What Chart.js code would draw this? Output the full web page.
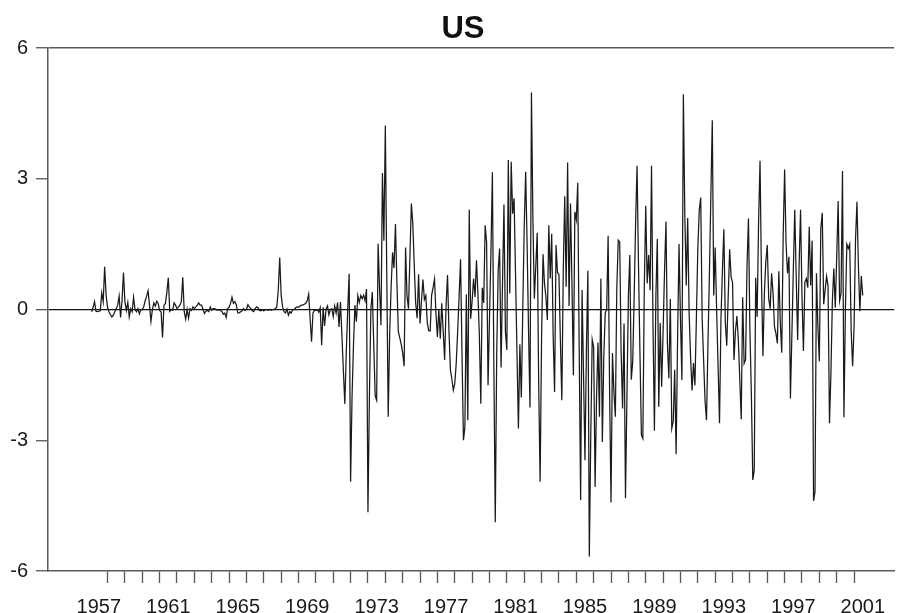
<!DOCTYPE html>
<html>
<head>
<meta charset="utf-8">
<script src="https://cdn.jsdelivr.net/npm/chart.js@4.4.1/dist/chart.umd.min.js"></script>
<style>
  html, body { margin: 0; padding: 0; background: #fff; }
  #wrap { position: relative; width: 897px; height: 613px; }
</style>
</head>
<body>
<div id="wrap"><canvas id="chart_us"></canvas></div>
<script>
// monthly series, first observation 1957:02
var firstYear = 1957, firstMonth = 2;

var us1950s = [
  -0.05, 0.05, 0.18, -0.04, -0.05, -0.04, -0.03, 0.38, 0.18, 0.98, 0.33,
  0.05, -0.05, -0.12, -0.17, -0.13, -0.05, 0.02, 0.1, 0.31, -0.18, 0.2, 0.85,
  0.18, -0.02, 0.16, -0.17, 0.02, -0.05, 0.28, 0.0, -0.05, 0.02, -0.1, 0.0
];
var us1960s = [
  0.0, 0.06, 0.2, 0.3, 0.43, 0.1, -0.27, 0.0, 0.15, 0.08, 0.19, 0.14,
  -0.02, -0.05, -0.64, 0.1, 0.14, 0.4, 0.73, -0.04, 0.0, -0.02, 0.15, 0.1,
  0.02, 0.06, 0.1, 0.18, 0.74, -0.05, -0.22, 0.0, -0.2, 0.02, -0.02, 0.06,
  0.02, 0.06, 0.1, 0.15, 0.1, 0.1, 0.0, -0.09, -0.04, -0.02, -0.05, 0.06,
  -0.02, 0.02, 0.02, 0.0, -0.02, 0.0, -0.03, -0.04, -0.11, -0.08, -0.18, 0.02,
  0.05, 0.14, 0.28, 0.14, 0.18, 0.11, -0.08, -0.08, -0.05, -0.03, 0.02, -0.02,
  0.0, 0.11, 0.06, 0.02, -0.03, -0.05, 0.02, 0.06, 0.04, -0.02, -0.03, 0.0,
  -0.03, 0.0, 0.0, -0.02, 0.0, -0.02, 0.0, 0.0, 0.02, 0.06, 0.44, 1.19,
  0.33, 0.06, -0.05, -0.08, 0.01, -0.13, -0.05, -0.08, 0.0, 0.0, 0.04, 0.06,
  0.05, 0.08, 0.1, 0.1, 0.12, 0.14, 0.2, 0.35, -0.2, -0.74, -0.08, -0.02
];
var us1970s = [
  -0.02, 0.0, -0.06, 0.04, -0.82, 0.05, -0.38, 0.0, 0.08, -0.12, 0.0, 0.02,
  -0.16, 0.08, -0.08, 0.16, -0.4, 0.17, -0.6, -1.4, -2.17, -1.0, 0.0, 0.82,
  -3.95, -2.0, -0.8, 0.1, -0.28, 0.32, 0.16, 0.32, 0.25, 0.33, 0.2, 0.47,
  -4.65, -2.0, 0.0, 0.4, -0.8, -1.98, -2.08, 1.51, 0.5, -0.36, 3.13, 1.58,
  4.22, 0.8, -2.46, -0.55, 0.5, 1.31, 0.95, 1.96, 0.63, -0.51, -0.65, -0.8,
  -1.0, -1.3, 1.42, 0.3, 0.02, 1.2, 2.43, 1.97, 1.0, 0.14, -0.2, 0.81,
  -0.32, 0.2, 0.69, 0.23, 0.32, -0.3, -0.49, -0.49, 0.33, 0.5, 0.7, -0.1,
  -0.63, 0.0, -0.67, 0.14, -0.5, -1.16, 0.1, 0.79, -0.5, -1.39, -1.6, -1.85,
  -1.7, -1.24, -0.5, 0.3, 1.15, -1.0, -3.0, -2.7, 0.35, -2.54, 2.29, -0.21,
  0.2, 0.71, 0.29, 1.13, 0.37, -0.6, -2.16, 0.5, 0.15, 1.93, 1.55, -1.74
];
var us1980s = [
  -0.2, 1.3, 3.15, -1.2, -4.88, -1.0, 0.9, 1.4, -1.33, 0.6, 2.41, -0.5,
  -0.93, 3.43, 0.37, 3.39, 2.2, 2.55, 0.8, -1.0, -2.73, -0.8, -2.02, 0.0,
  1.9, 3.16, 1.5, -0.5, -2.25, 4.98, 2.1, 0.25, 1.0, 1.76, -1.7, -3.95,
  -0.64, 1.27, 0.6, 0.3, -0.24, 1.93, 0.71, 1.74, -0.6, -1.89, 1.48, 0.85,
  0.8, -0.7, -2.08, 0.9, 2.6, 0.52, 3.37, 0.08, 2.43, 0.6, -1.51, 2.24,
  2.06, 2.91, -0.9, -4.37, 0.45, -1.5, -3.46, -0.9, 0.89, -5.67, -2.9, -0.69,
  -0.86, -4.07, -2.0, -0.76, -2.46, 0.71, -3.04, -1.1, -0.08, 0.0, 1.69, -1.8,
  -4.43, -1.0, -1.9, -2.46, 0.5, 1.59, 1.55, -1.0, -2.27, -0.32, -4.33, -2.0,
  0.3, 1.25, -1.61, -1.2, 0.3, 2.0, 3.3, 1.0, -1.0, -2.88, -2.96, 0.5,
  2.38, 0.6, 1.25, 0.44, 3.3, -0.3, -2.78, 0.3, 1.62, -2.23, -0.31, -1.77
];
var us1990s = [
  -0.5, 0.9, 2.02, -0.8, -1.58, 0.24, -2.73, -2.57, -1.38, -3.32, -0.7, 1.5,
  -0.2, -1.62, 4.94, 2.2, 0.55, 2.1, -0.09, -1.1, -1.86, -1.23, -1.74, -0.2,
  1.4, 2.29, 2.57, -0.2, -1.16, -2.1, -2.54, -0.8, 0.8, 2.6, 4.34, 0.32,
  1.42, 0.0, -1.3, -2.61, -0.2, 0.9, 1.84, -0.3, -0.83, 0.3, 1.38, 0.75,
  0.62, -1.16, -0.5, -0.15, -0.7, -1.6, -2.52, 0.28, -1.24, -1.15, 1.0, 2.09,
  -0.47, -1.93, -3.91, -3.69, 0.73, -0.17, 2.0, 3.41, 0.7, -1.07, 0.37, 1.1,
  1.48, 0.25, 0.02, 0.83, 0.37, -0.4, -0.55, -0.78, 0.88, -0.3, -0.99, 1.7,
  3.21, 1.5, 0.83, 1.21, -2.04, -0.6, 0.9, 2.29, 0.75, -0.7, 1.0, 2.29,
  0.3, -0.95, 0.63, 0.71, 0.5, 1.9, 0.55, 1.58, -4.39, -4.18, 0.83, -0.4,
  -1.19, 1.86, 2.22, 0.12, 0.45, 0.76, 0.55, -2.61, -1.47, 0.2, 0.94, 0.04
];
var us2000s = [
  1.2, 2.49, 0.2, 0.37, 3.18, -2.47, 0.0, 1.5, 1.4, 1.5, -0.5, -1.3,
  -0.4, 1.6, 2.47, 1.0, -0.04, 0.77, 0.32
];

var yTickValues = [-6, -3, 0, 3, 6];
var yearLabels = [1957, 1961, 1965, 1969, 1973, 1977, 1981, 1985, 1989, 1993, 1997, 2001];
var firstYearTick = 1958, lastYearTick = 2001;

var usValues = [].concat(us1950s, us1960s, us1970s, us1980s, us1990s, us2000s);
var usPoints = usValues.map(function (v, i) {
  return { x: firstYear + (firstMonth - 1 + i) / 12, y: v };
});

var fontFamily = "'Liberation Sans', Arial, Helvetica, sans-serif";
Chart.defaults.font.family = fontFamily;

var chart_us = new Chart(document.getElementById('chart_us'), {
    type: 'line',
    data: {
        datasets: [
            {
                label: 'US',
                data: usPoints,
                borderColor: '#1a1a1a',
                borderWidth: 1.25,
                pointRadius: 0,
                tension: 0,
                fill: false
            }
        ]
    },
    options: {
        animation: false,
        responsive: true,
        maintainAspectRatio: false,
        layout: {
            padding: 0
        },
        plugins: {
            legend: { display: false },
            tooltip: { enabled: false },
            title: {
                display: true,
                text: 'US',
                color: '#111',
                fullSize: true,
                font: { size: 31, weight: 'bold' },
                padding: { top: 10.7, bottom: 0.1 }
            }
        },
        scales: {
            x: {
                type: 'linear',
                min: 1954.57,
                max: 2003.31,
                afterBuildTicks: function (scale) {
                    var t = [];
                    for (var y = firstYearTick; y <= lastYearTick; y++) t.push({ value: y });
                    yearLabels.forEach(function (y) { t.push({ value: y + 0.5 }); });
                    t.sort(function (a, b) { return a.value - b.value; });
                    scale.ticks = t;
                },
                afterFit: function (scale) { scale.height = 42; },
                ticks: {
                    autoSkip: false,
                    maxRotation: 0,
                    minRotation: 0,
                    padding: 12,
                    color: '#1a1a1a',
                    font: { size: 20 },
                    callback: function (value) {
                        return value % 1 === 0 ? '' : String(Math.floor(value));
                    }
                },
                grid: {
                    drawOnChartArea: false,
                    drawTicks: true,
                    tickLength: 12,
                    tickWidth: 1.3,
                    tickColor: function (c) {
                        return c.tick && c.tick.value % 1 === 0 ? '#555' : 'rgba(0,0,0,0)';
                    }
                },
                border: { display: true, color: '#5a5a5a', width: 1.5 }
            },
            y: {
                type: 'linear',
                min: -6,
                max: 6,
                afterBuildTicks: function (scale) {
                    scale.ticks = yTickValues.map(function (v) { return { value: v }; });
                },
                afterFit: function (scale) { scale.width = 48; },
                ticks: {
                    padding: 8,
                    color: '#1a1a1a',
                    font: { size: 20 },
                    callback: function (value) { return String(value); }
                },
                grid: {
                    drawOnChartArea: true,
                    drawTicks: true,
                    tickLength: 12,
                    tickWidth: 1.3,
                    tickColor: '#555',
                    color: function (c) {
                        var v = c.tick && c.tick.value;
                        if (v === 0) return '#111';
                        if (v === 6) return '#5a5a5a';
                        return 'rgba(0,0,0,0)';
                    },
                    lineWidth: function (c) {
                        return c.tick && c.tick.value === 0 ? 1.3 : 1.5;
                    }
                },
                border: { display: true, color: '#5a5a5a', width: 1.5 }
            }
        }
    },
    plugins: [{
        id: 'whiteBackground',
        beforeDraw: function (chart) {
            var ctx = chart.ctx;
            ctx.save();
            ctx.globalCompositeOperation = 'destination-over';
            ctx.fillStyle = 'white';
            ctx.fillRect(0, 0, chart.width, chart.height);
            ctx.restore();
        }
    }, {
        // the title sits a little right of the canvas centre in the original
        id: 'titleOffset',
        afterLayout: function (chart) {
            if (chart.titleBlock) chart.titleBlock.left = 29;
        }
    }]
});
</script>
</body>
</html>
